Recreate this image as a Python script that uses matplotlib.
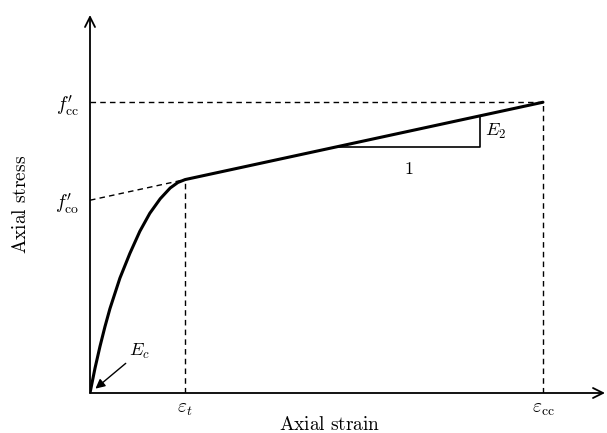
import matplotlib
matplotlib.use("Agg")
import matplotlib.pyplot as plt

plt.rcParams['mathtext.fontset'] = 'cm'
plt.rcParams['font.family'] = ['DejaVu Serif']

# normalised strain / stress values
eps_t = 0.21
eps_cc = 1.0
f_co = 0.663      # intercept of the linear branch
f_cc = 1.0
sig_t = 0.734     # stress at the transition point

# parabolic first branch
curve_eps = [0.0, 0.011, 0.022, 0.033, 0.044, 0.066, 0.088, 0.110, 0.132,
             0.155, 0.177, 0.194, 0.210]
curve_sig = [0.0, 0.085, 0.160, 0.228, 0.290, 0.395, 0.480, 0.556, 0.618,
             0.668, 0.705, 0.724, 0.734]

# slope triangle on the linear branch
tri_eps = [0.545, 0.861]

x_max, y_max = 1.137, 1.30

fig = plt.figure(figsize=(6.07, 4.33), dpi=100)
ax = fig.add_axes([90 / 607, 40 / 433, 515 / 607, 378 / 433])
ax.set_xlim(0, x_max)
ax.set_ylim(0, y_max)
for s in ax.spines.values():
    s.set_visible(False)

# axes with open arrow heads
ax.annotate('', xy=(x_max, 0), xytext=(0, 0),
            arrowprops=dict(arrowstyle='->', lw=1.3, color='k', mutation_scale=18,
                            shrinkA=0, shrinkB=0), annotation_clip=False)
ax.annotate('', xy=(0, y_max), xytext=(0, 0),
            arrowprops=dict(arrowstyle='->', lw=1.3, color='k', mutation_scale=18,
                            shrinkA=0, shrinkB=0), annotation_clip=False)

dash = dict(color='k', lw=1.0, ls=(0, (4, 3)))
# guide lines
ax.plot([0, eps_cc], [f_cc, f_cc], **dash)
ax.plot([eps_cc, eps_cc], [0, f_cc], **dash)
ax.plot([eps_t, eps_t], [0, sig_t], **dash)
ax.plot([0, eps_t], [f_co, sig_t], **dash)

# stress-strain curve
ax.plot(curve_eps + [eps_cc], curve_sig + [f_cc], color='k', lw=2.2,
        solid_capstyle='round', solid_joinstyle='round')

# slope triangle
E2 = (f_cc - f_co) / eps_cc
s0 = f_co + E2 * tri_eps[0]
s1 = f_co + E2 * tri_eps[1]
ax.plot([tri_eps[0], tri_eps[1], tri_eps[1]], [s0, s0, s1], color='k', lw=1.2)
ax.text((tri_eps[0] + tri_eps[1]) / 2, s0 - 0.045, '$1$', ha='center', va='top', fontsize=13)
ax.text(tri_eps[1] + 0.01, (s0 + s1) / 2, '$E_2$', ha='left', va='center', fontsize=13)

# E_c annotation
ax.annotate('$E_c$', xy=(0.012, 0.015), xytext=(0.085, 0.11), fontsize=13,
            ha='left', va='bottom',
            arrowprops=dict(arrowstyle='-|>', color='k', lw=1.0, mutation_scale=14,
                            shrinkA=0, shrinkB=0, relpos=(0, 0)))

# tick labels
ax.set_yticks([f_co, f_cc], [r"$f^{\prime}_{\mathrm{co}}$", r"$f^{\prime}_{\mathrm{cc}}$"], fontsize=14)
ax.set_xticks([eps_t, eps_cc], [r'$\varepsilon_t$', r'$\varepsilon_{\mathrm{cc}}$'], fontsize=14)
ax.tick_params(axis='y', length=0, pad=8)
ax.tick_params(axis='x', length=0, pad=5)

ax.set_xlabel(r'$\mathrm{Axial\ strain}$', fontsize=14)
ax.xaxis.set_label_coords(0.465, -0.06)
ax.set_ylabel(r'$\mathrm{Axial\ stress}$', fontsize=14, labelpad=18)

fig.savefig('out.png', dpi=100)
